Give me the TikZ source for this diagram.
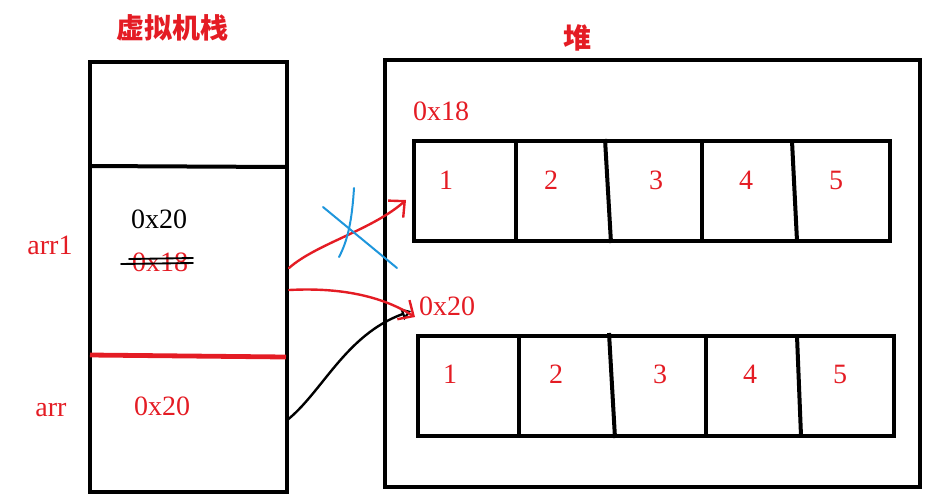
\documentclass[tikz,border=0pt]{standalone}
\usepackage{fontspec}
\setmainfont{Liberation Serif}
\newfontfamily\cjk{Noto Sans CJK SC}
\usetikzlibrary{arrows.meta}
\definecolor{penred}{RGB}{228,28,36}
\definecolor{penblue}{RGB}{30,150,220}
\tikzset{
  lbl/.style={text=penred,font=\fontsize{21}{24}\selectfont,inner sep=0pt},
  title/.style={lbl,font=\cjk\bfseries\fontsize{21}{24}\selectfont},
  thick box/.style={line width=3pt},
  pen/.style={line width=1.8pt,line cap=round,line join=round},
  barb/.style={-{Straight Barb[length=9pt,width=17pt,line width=1.8pt]}}
}
\begin{document}
\begin{tikzpicture}[x=0.75pt,y=0.75pt,yscale=-1,xscale=1]
\useasboundingbox (0,0) rectangle (927,501);

%Titles
\node[title] (stacktitle) at (172,28) {虚拟机栈};
\node[title] (heaptitle) at (577,38) {堆};

%Stack frame
\draw[thick box] (90,62) rectangle (287,492);
%Straight Lines
\draw[thick box] (90,166) -- (287,167);
%Straight Lines (red separator)
\draw[line width=3.6pt,penred] (90,355) -- (286,357);

%Stack texts
\node[lbl] (arrone) at (50,245) {arr1};
\node[lbl] (arr) at (51,410) {arr};
\node[lbl,text=black] (newaddr) at (159,219) {0x20};
\node[lbl] (oldaddr) at (160,262) {0x18};
\node[lbl] (arraddr) at (162,406) {0x20};
%strike out old address
\draw[pen,line width=1.4pt] (121,264) -- (193,263);
\draw[pen,line width=1.4pt] (129,259) -- (193,258);

%Heap frame
\draw[thick box] (385,60) rectangle (920,487);
\node[lbl] (heapold) at (441,111) {0x18};
\node[lbl] (heapnew) at (447,306) {0x20};

%Array 0x18
\draw[thick box] (414,141) rectangle (890,241);
\draw[thick box] (516,141) -- (516,241);
\draw[thick box] (605,139) -- (611,243);
\draw[thick box] (702,141) -- (702,241);
\draw[thick box] (792,141) -- (797,241);
\node[lbl] (aa) at (446,180) {1};
\node[lbl] (ab) at (551,180) {2};
\node[lbl] (ac) at (656,180) {3};
\node[lbl] (ad) at (746,180) {4};
\node[lbl] (ae) at (836,180) {5};

%Array 0x20
\draw[thick box] (418,336) rectangle (894,436);
\draw[thick box] (519,336) -- (519,436);
\draw[thick box] (609,333) -- (615,438);
\draw[thick box] (706,336) -- (706,436);
\draw[thick box] (797,336) -- (801,436);
\node[lbl] (ba) at (450,374) {1};
\node[lbl] (bb) at (556,374) {2};
\node[lbl] (bc) at (660,374) {3};
\node[lbl] (bd) at (750,374) {4};
\node[lbl] (be) at (840,374) {5};

%Pointer ends
\coordinate (arronefrom) at (289,268);
\coordinate (arronenow) at (289,290);
\coordinate (arrfrom) at (286,421);
\coordinate (oldtip) at (406,200);
\coordinate (newtip) at (415,317);
\coordinate (arrtip) at (411,311);

%Old pointer (crossed out)
\draw[pen,penred,barb] (arronefrom) .. controls (316,244) and (372,230) .. (oldtip);
\draw[pen,penblue,line width=1.5pt] (323,207) -- (397,268);
\draw[pen,penblue,line width=1.5pt] (354,188) .. controls (352,220) and (348,240) .. (339,257);

%New pointers
\draw[pen,black,-{Triangle[open,length=7pt,width=9pt,line width=1.6pt]}] (arrfrom) .. controls (322,393) and (345,335) .. (arrtip);
\draw[pen,penred,barb] (arronenow) .. controls (345,287) and (385,298) .. (newtip);

\end{tikzpicture}
\end{document}
